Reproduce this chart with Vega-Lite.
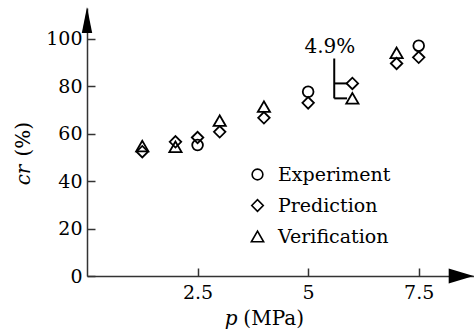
{
  "$schema": "https://vega.github.io/schema/vega-lite/v6.json",
  "width": 387,
  "height": 268,
  "autosize": {"type": "none"},
  "padding": {"left": 87, "top": 8, "right": 0, "bottom": 58},
  "background": "white",
  "config": {
    "view": {"stroke": null},
    "font": "DejaVu Serif",
    "axis": {
      "domainColor": "#333",
      "domainWidth": 1.5,
      "tickColor": "#333",
      "tickWidth": 1.5,
      "tickSize": -8,
      "labelFont": "DejaVu Serif",
      "labelFontSize": 19,
      "labelColor": "black",
      "labelFlush": false,
      "grid": false,
      "title": null
    },
    "legend": {
      "labelFont": "DejaVu Serif"
    }
  },
  "datasets": {
    "points": [
      {"p": 2.5, "cr": 55.2, "series": "Experiment"},
      {"p": 5, "cr": 77.7, "series": "Experiment"},
      {"p": 7.5, "cr": 97.1, "series": "Experiment"},
      {"p": 1.25, "cr": 52.4, "series": "Prediction"},
      {"p": 2, "cr": 56.6, "series": "Prediction"},
      {"p": 2.5, "cr": 58.4, "series": "Prediction"},
      {"p": 3, "cr": 60.8, "series": "Prediction"},
      {"p": 4, "cr": 66.7, "series": "Prediction"},
      {"p": 5, "cr": 73.0, "series": "Prediction"},
      {"p": 6, "cr": 81.2, "series": "Prediction"},
      {"p": 7, "cr": 89.6, "series": "Prediction"},
      {"p": 7.5, "cr": 92.2, "series": "Prediction"},
      {"p": 1.25, "cr": 54.8, "series": "Verification"},
      {"p": 2, "cr": 54.5, "series": "Verification"},
      {"p": 3, "cr": 65.5, "series": "Verification"},
      {"p": 4, "cr": 71.4, "series": "Verification"},
      {"p": 6, "cr": 74.9, "series": "Verification"},
      {"p": 7, "cr": 94.1, "series": "Verification"}
    ],
    "bracket": [
      {"x": 5.59, "x2": 5.59, "y": 74.9, "y2": 91.7},
      {"x": 5.59, "x2": 5.88, "y": 81.2, "y2": 81.2},
      {"x": 5.59, "x2": 5.88, "y": 74.9, "y2": 74.9}
    ],
    "texts": [
      {"x": 5.49, "y": 94.0, "text": "4.9%", "kind": "note"},
      {"x": 3.26, "y": -20.6, "text": "p", "kind": "xital"},
      {"x": 4.22, "y": -20.6, "text": "(MPa)", "kind": "xnorm"},
      {"x": -1.28, "y": 42.6, "text": "cr", "kind": "yital"},
      {"x": -1.28, "y": 57.7, "text": "(%)", "kind": "ynorm"}
    ],
    "arrows": [
      {"x": 0, "y": 107.9, "dir": "up"},
      {"x": 8.46, "y": 0, "dir": "right"}
    ]
  },
  "layer": [
    {
      "data": {"name": "points"},
      "mark": {"type": "point", "filled": false, "color": "black", "strokeWidth": 1.8, "opacity": 1},
      "encoding": {
        "x": {"field": "p", "type": "quantitative", "scale": {"domain": [0, 8.75], "nice": false, "zero": false},
              "axis": {"values": [2.5, 5, 7.5], "format": ".1~f", "labelPadding": 15}},
        "y": {"field": "cr", "type": "quantitative", "scale": {"domain": [0, 113], "nice": false, "zero": false},
              "axis": {"values": [0, 20, 40, 60, 80, 100], "labelPadding": 13}},
        "shape": {"field": "series", "type": "nominal",
                  "scale": {"domain": ["Experiment", "Prediction", "Verification"], "range": ["circle", "diamond", "triangle-up"]},
                  "legend": {"orient": "none", "legendX": 161, "legendY": 157, "title": null, "labelFontSize": 19,
                             "labelColor": "black", "rowPadding": 11, "labelOffset": 11, "symbolStrokeWidth": 1.6, "symbolStrokeColor": "black", "padding": 0}},
        "size": {"field": "series", "type": "nominal",
                 "scale": {"domain": ["Experiment", "Prediction", "Verification"], "range": [115, 150, 165]}}
      }
    },
    {
      "data": {"name": "bracket"},
      "mark": {"type": "rule", "color": "black", "strokeWidth": 2},
      "encoding": {
        "x": {"field": "x", "type": "quantitative", "scale": {"domain": [0, 8.75], "nice": false, "zero": false}},
        "x2": {"field": "x2"},
        "y": {"field": "y", "type": "quantitative", "scale": {"domain": [0, 113], "nice": false, "zero": false}},
        "y2": {"field": "y2"}
      }
    },
    {
      "data": {"name": "texts"},
      "transform": [{"filter": "datum.kind === 'note' || datum.kind === 'xnorm'"}],
      "mark": {"type": "text", "font": "DejaVu Serif", "fontSize": 20, "color": "black", "align": "center", "baseline": "alphabetic"},
      "encoding": {
        "x": {"field": "x", "type": "quantitative"},
        "y": {"field": "y", "type": "quantitative"},
        "text": {"field": "text"}
      }
    },
    {
      "data": {"name": "texts"},
      "transform": [{"filter": "datum.kind === 'xital'"}],
      "mark": {"type": "text", "font": "DejaVu Serif", "fontSize": 20, "fontStyle": "italic", "color": "black", "align": "center", "baseline": "alphabetic"},
      "encoding": {
        "x": {"field": "x", "type": "quantitative"},
        "y": {"field": "y", "type": "quantitative"},
        "text": {"field": "text"}
      }
    },
    {
      "data": {"name": "texts"},
      "transform": [{"filter": "datum.kind === 'ynorm'"}],
      "mark": {"type": "text", "font": "DejaVu Serif", "fontSize": 20, "color": "black", "align": "center", "baseline": "alphabetic", "angle": 270},
      "encoding": {
        "x": {"field": "x", "type": "quantitative"},
        "y": {"field": "y", "type": "quantitative"},
        "text": {"field": "text"}
      }
    },
    {
      "data": {"name": "texts"},
      "transform": [{"filter": "datum.kind === 'yital'"}],
      "mark": {"type": "text", "font": "DejaVu Serif", "fontSize": 20, "fontStyle": "italic", "color": "black", "align": "center", "baseline": "alphabetic", "angle": 270},
      "encoding": {
        "x": {"field": "x", "type": "quantitative"},
        "y": {"field": "y", "type": "quantitative"},
        "text": {"field": "text"}
      }
    },
    {
      "data": {"name": "arrows"},
      "transform": [{"filter": "datum.dir === 'up'"}],
      "mark": {"type": "point", "filled": true, "color": "black", "opacity": 1, "size": 676, "shape": "M0,-1L0.4,1L-0.4,1Z"},
      "encoding": {
        "x": {"field": "x", "type": "quantitative"},
        "y": {"field": "y", "type": "quantitative"}
      }
    },
    {
      "data": {"name": "arrows"},
      "transform": [{"filter": "datum.dir === 'right'"}],
      "mark": {"type": "point", "filled": true, "color": "black", "opacity": 1, "size": 625, "shape": "M1,0L-1,0.6L-1,-0.6Z"},
      "encoding": {
        "x": {"field": "x", "type": "quantitative"},
        "y": {"field": "y", "type": "quantitative"}
      }
    }
  ]
}
